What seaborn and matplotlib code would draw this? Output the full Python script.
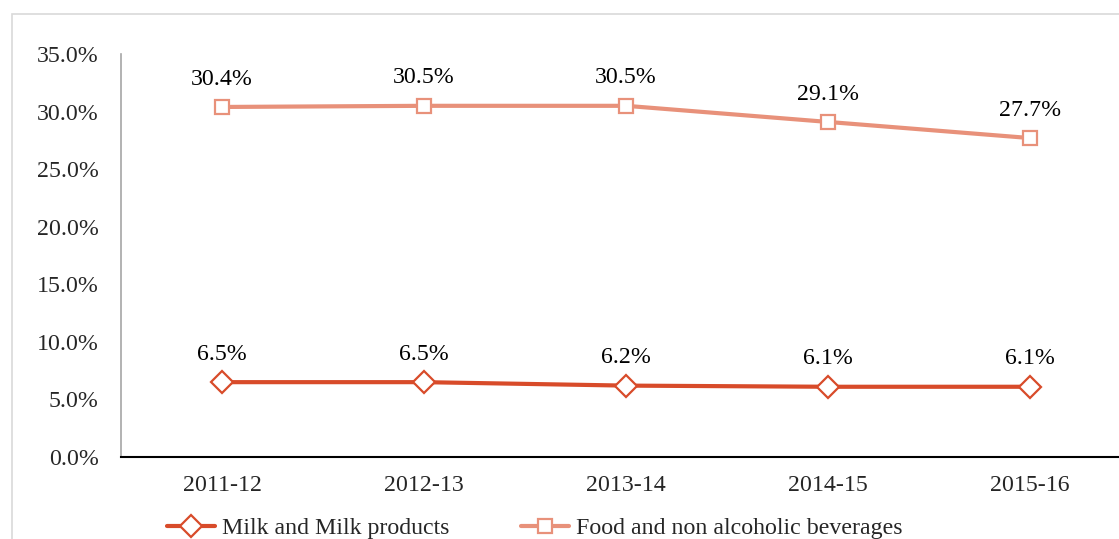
import matplotlib
matplotlib.use("Agg")
import matplotlib.pyplot as plt
import matplotlib.patches as mpatches
import seaborn as sns
import pandas as pd

years = ["2011-12", "2012-13", "2013-14", "2014-15", "2015-16"]
milk = [6.5, 6.5, 6.2, 6.1, 6.1]
food = [30.4, 30.5, 30.5, 29.1, 27.7]
yticks = [0, 5, 10, 15, 20, 25, 30, 35]

sns.set_theme(style="white")
plt.rcParams["font.family"] = ["Liberation Serif", "DejaVu Serif"]
FS = 17.2

W, H = 1119, 539
fig = plt.figure(figsize=(W / 100, H / 100), dpi=100)
ax = fig.add_axes([121 / W, (H - 457) / H, (1131 - 121) / W, (457 - 54) / H])

df = pd.DataFrame({"year": years, "milk": milk, "food": food})
x = list(range(len(years)))
df["x"] = x

c_milk = "#D84B2A"
c_food = "#E8917A"
sns.lineplot(data=df, x="x", y="milk", ax=ax, color=c_milk, lw=3.0, marker="D",
             markersize=11, markerfacecolor="white", markeredgecolor=c_milk,
             markeredgewidth=1.6, label="Milk and Milk products")
sns.lineplot(data=df, x="x", y="food", ax=ax, color=c_food, lw=3.0, marker="s",
             markersize=10.5, markerfacecolor="white", markeredgecolor=c_food,
             markeredgewidth=1.6, label="Food and non alcoholic beverages")

for xi, v in zip(x, milk):
    ax.annotate(f"{v:.1f}%", (xi, v), xytext=(0, 12.5), textcoords="offset points",
                ha="center", va="bottom", fontsize=FS, color="black")
for xi, v in zip(x, food):
    ax.annotate(f"{v:.1f}%", (xi, v), xytext=(0, 12.5), textcoords="offset points",
                ha="center", va="bottom", fontsize=FS, color="black")

ax.set_xlim(-0.5, len(years) - 0.5)
ax.set_ylim(0, 35)
ax.set_yticks(yticks)
ax.set_yticklabels([f"{t:.1f}%" for t in yticks], fontsize=FS)
ax.set_xticks(x)
ax.set_xticklabels(years, fontsize=FS)
ax.set_xticks([i - 0.5 for i in range(len(years) + 1)], minor=True)
ax.tick_params(axis="x", which="major", length=0, pad=13)
ax.tick_params(axis="x", which="minor", length=6, width=1.2, color="black", direction="out")
ax.tick_params(axis="y", length=6, width=1.2, color="#A6A6A6", direction="out", pad=10)
ax.set_xlabel("")
ax.set_ylabel("")
for s in ["top", "right"]:
    ax.spines[s].set_visible(False)
ax.spines["left"].set_color("#A6A6A6")
ax.spines["left"].set_linewidth(1.2)
ax.spines["bottom"].set_color("black")
ax.spines["bottom"].set_linewidth(1.5)
ax.grid(False)

handles, labels = ax.get_legend_handles_labels()
ax.get_legend().remove()
fig.legend(handles, labels, loc="center", bbox_to_anchor=(535 / W, 1 - 528 / H),
           ncol=2, frameon=False, fontsize=FS, handlelength=2.0, handletextpad=0.3,
           columnspacing=3.0)

fig.patches.append(mpatches.Rectangle((12 / W, -0.1), 1.2, 1 - 14 / H + 0.1,
                                      transform=fig.transFigure, fill=False,
                                      edgecolor="#D9D9D9", lw=1.2, zorder=-1))

fig.savefig("out.png", dpi=100)
